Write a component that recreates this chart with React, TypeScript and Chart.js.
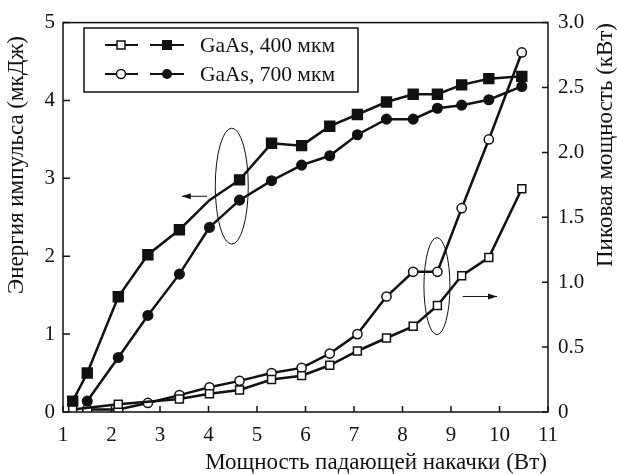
import { useEffect, useRef } from 'react';
import { Chart, registerables } from 'chart.js';

Chart.register(...registerables);

const pumpPower = [1.2, 1.5, 2.14, 2.75, 3.4, 4.02, 4.64, 5.3, 5.92, 6.5, 7.07, 7.67, 8.22, 8.72, 9.22, 9.78, 10.46];
const energy400 = [0.14, 0.5, 1.48, 2.02, 2.34, 2.72, 2.98, 3.45, 3.42, 3.67, 3.82, 3.98, 4.08, 4.08, 4.2, 4.28, 4.31];
const energy700 = [null, 0.14, 0.7, 1.24, 1.77, 2.37, 2.72, 2.97, 3.17, 3.29, 3.56, 3.76, 3.76, 3.9, 3.94, 4.01, 4.18];
const peak400 = [0.02, null, 0.06, null, 0.1, 0.14, 0.17, 0.25, 0.28, 0.36, 0.47, 0.57, 0.66, 0.82, 1.05, 1.19, 1.72];
const peak700 = [null, 0.02, 0.02, 0.07, 0.13, 0.19, 0.24, 0.3, 0.34, 0.45, 0.6, 0.89, 1.08, 1.08, 1.57, 2.1, 2.77];
const energy400Unmarked = 5;

const xTicks = [1, 2, 3, 4, 5, 6, 7, 8, 9, 10, 11];
const energyTicks = [0, 1, 2, 3, 4, 5];
const peakTicks = [0, 0.5, 1, 1.5, 2, 2.5, 3];
const peakTickLabels = ['0', '0.5', '1.0', '1.5', '2.0', '2.5', '3.0'];

const legendLabels = ['GaAs, 400 мкм', 'GaAs, 700 мкм'];
const xTitle = 'Мощность падающей накачки (Вт)';
const yTitle = 'Энергия импульса (мкДж)';
const y1Title = 'Пиковая мощность (кВт)';

const FONT = '"Liberation Serif", "Times New Roman", serif';
const INK = '#111';

function pts(ys: (number | null)[]) {
  return pumpPower.map((x, i) => ({ x, y: ys[i] }));
}

const decor = {
  id: 'decor',
  afterDraw(chart: any) {
    const { ctx, chartArea: a, scales } = chart;
    const sx = scales.x, sy = scales.y, sy1 = scales.y1;
    ctx.save();
    ctx.strokeStyle = INK;
    ctx.fillStyle = INK;
    ctx.lineWidth = 1.5;
    ctx.strokeRect(a.left, a.top, a.right - a.left, a.bottom - a.top);
    ctx.beginPath();
    xTicks.forEach((v) => {
      const px = sx.getPixelForValue(v);
      ctx.moveTo(px, a.bottom);
      ctx.lineTo(px, a.bottom - 6);
    });
    energyTicks.forEach((v) => {
      const py = sy.getPixelForValue(v);
      ctx.moveTo(a.left, py);
      ctx.lineTo(a.left + 7, py);
    });
    peakTicks.forEach((v) => {
      const py = sy1.getPixelForValue(v);
      ctx.moveTo(a.right, py);
      ctx.lineTo(a.right - 6, py);
    });
    ctx.stroke();

    // ellipses
    ctx.lineWidth = 1;
    const ell = (cx: number, cy: number, rx: number, ry: number) => {
      ctx.beginPath();
      ctx.ellipse(cx, cy, rx, ry, 0, 0, Math.PI * 2);
      ctx.stroke();
    };
    ell(sx.getPixelForValue(4.48), sy.getPixelForValue(2.9), 16.5, 58);
    ell(sx.getPixelForValue(8.71), sy1.getPixelForValue(0.97), 13, 48.5);

    const arrow = (x1: number, y1: number, x2: number, y2: number) => {
      ctx.beginPath();
      ctx.moveTo(x1, y1);
      ctx.lineTo(x2, y2);
      ctx.stroke();
      const dir = Math.sign(x2 - x1);
      ctx.beginPath();
      ctx.moveTo(x2, y2);
      ctx.lineTo(x2 - dir * 9, y2 - 3);
      ctx.lineTo(x2 - dir * 9, y2 + 3);
      ctx.closePath();
      ctx.fill();
    };
    const ay = sy.getPixelForValue(2.77);
    arrow(sx.getPixelForValue(3.97), ay, sx.getPixelForValue(3.45), ay);
    const by = sy1.getPixelForValue(0.89);
    arrow(sx.getPixelForValue(9.24), by, sx.getPixelForValue(9.95), by);

    // legend
    ctx.lineWidth = 1.5;
    ctx.strokeRect(84, 28, 274, 64);
    const rows = [45, 74];
    rows.forEach((ry, i) => {
      ctx.lineWidth = 2;
      ctx.beginPath();
      ctx.moveTo(105, ry);
      ctx.lineTo(138, ry);
      ctx.moveTo(150, ry);
      ctx.lineTo(184, ry);
      ctx.stroke();
      ctx.lineWidth = 1.5;
      if (i === 0) {
        ctx.fillStyle = '#fff';
        ctx.fillRect(117, ry - 4, 8, 8);
        ctx.strokeRect(117, ry - 4, 8, 8);
        ctx.fillStyle = INK;
        ctx.fillRect(162, ry - 5, 10, 10);
      } else {
        ctx.fillStyle = '#fff';
        ctx.beginPath();
        ctx.arc(121, ry, 4.5, 0, Math.PI * 2);
        ctx.fill();
        ctx.stroke();
        ctx.fillStyle = INK;
        ctx.beginPath();
        ctx.arc(167, ry, 5, 0, Math.PI * 2);
        ctx.fill();
      }
      ctx.font = `21.5px ${FONT}`;
      ctx.textAlign = 'left';
      ctx.textBaseline = 'middle';
      ctx.fillText(legendLabels[i], 200, ry + 1);
    });

    // axis titles
    ctx.font = `23px ${FONT}`;
    ctx.textAlign = 'center';
    ctx.textBaseline = 'middle';
    ctx.fillText(xTitle, 376, 463);
    ctx.save();
    ctx.translate(17, 165);
    ctx.rotate(-Math.PI / 2);
    ctx.fillText(yTitle, 0, 0);
    ctx.restore();
    ctx.save();
    ctx.translate(606, 145);
    ctx.rotate(-Math.PI / 2);
    ctx.fillText(y1Title, 0, 0);
    ctx.restore();
    ctx.restore();
  },
};

export default function App() {
  const ref = useRef<HTMLCanvasElement | null>(null);
  useEffect(() => {
    const canvas = ref.current;
    if (!canvas) return;
    const common = {
      borderColor: INK,
      borderWidth: 2.5,
      pointBorderColor: INK,
      pointBorderWidth: 1.5,
      spanGaps: true,
      tension: 0,
    };
    const tickFont = { family: FONT, size: 21 };
    const chart = new Chart(canvas, {
      type: 'line',
      data: {
        datasets: [
          {
            ...common,
            label: legendLabels[0] + ' E',
            data: pts(energy400),
            yAxisID: 'y',
            pointStyle: 'rect',
            pointRadius: energy400.map((_, i) => (i === energy400Unmarked ? 0 : 7)),
            pointBackgroundColor: INK,
          },
          {
            ...common,
            label: legendLabels[1] + ' E',
            data: pts(energy700),
            yAxisID: 'y',
            pointStyle: 'circle',
            pointRadius: 4.8,
            pointBackgroundColor: INK,
          },
          {
            ...common,
            label: legendLabels[0] + ' P',
            data: pts(peak400),
            yAxisID: 'y1',
            pointStyle: 'rect',
            pointRadius: 5.6,
            pointBackgroundColor: '#fff',
          },
          {
            ...common,
            label: legendLabels[1] + ' P',
            data: pts(peak700),
            yAxisID: 'y1',
            pointStyle: 'circle',
            pointRadius: 4.6,
            pointBackgroundColor: '#fff',
          },
        ],
      },
      options: {
        animation: false,
        responsive: false,
        events: [],
        layout: { padding: { top: 17, left: 0, right: 0, bottom: 0 } },
        plugins: { legend: { display: false }, tooltip: { enabled: false } },
        scales: {
          x: {
            type: 'linear',
            min: 1,
            max: 11,
            grid: { display: false, drawTicks: false },
            border: { display: false },
            afterFit: (s: any) => { s.height = 62; },
            ticks: { stepSize: 1, padding: 11, color: INK, font: tickFont, maxRotation: 0 },
          },
          y: {
            type: 'linear',
            position: 'left',
            min: 0,
            max: 5,
            grid: { display: false, drawTicks: false },
            border: { display: false },
            afterFit: (s: any) => { s.width = 63; },
            ticks: { stepSize: 1, padding: 8, color: INK, font: tickFont },
          },
          y1: {
            type: 'linear',
            position: 'right',
            min: 0,
            max: 3,
            grid: { display: false, drawTicks: false },
            border: { display: false },
            afterFit: (s: any) => { s.width = 69; },
            ticks: {
              stepSize: 0.5,
              padding: 10,
              color: INK,
              font: tickFont,
              callback: (v: any) => {
                const i = peakTicks.indexOf(Number(v));
                return i >= 0 ? peakTickLabels[i] : '';
              },
            },
          },
        },
      },
      plugins: [decor],
    } as any);
    return () => chart.destroy();
  }, []);
  return (
    <canvas
      ref={ref}
      width={617}
      height={474}
      style={{ position: 'absolute', left: 0, top: 0, display: 'block', background: '#fff' }}
    />
  );
}
